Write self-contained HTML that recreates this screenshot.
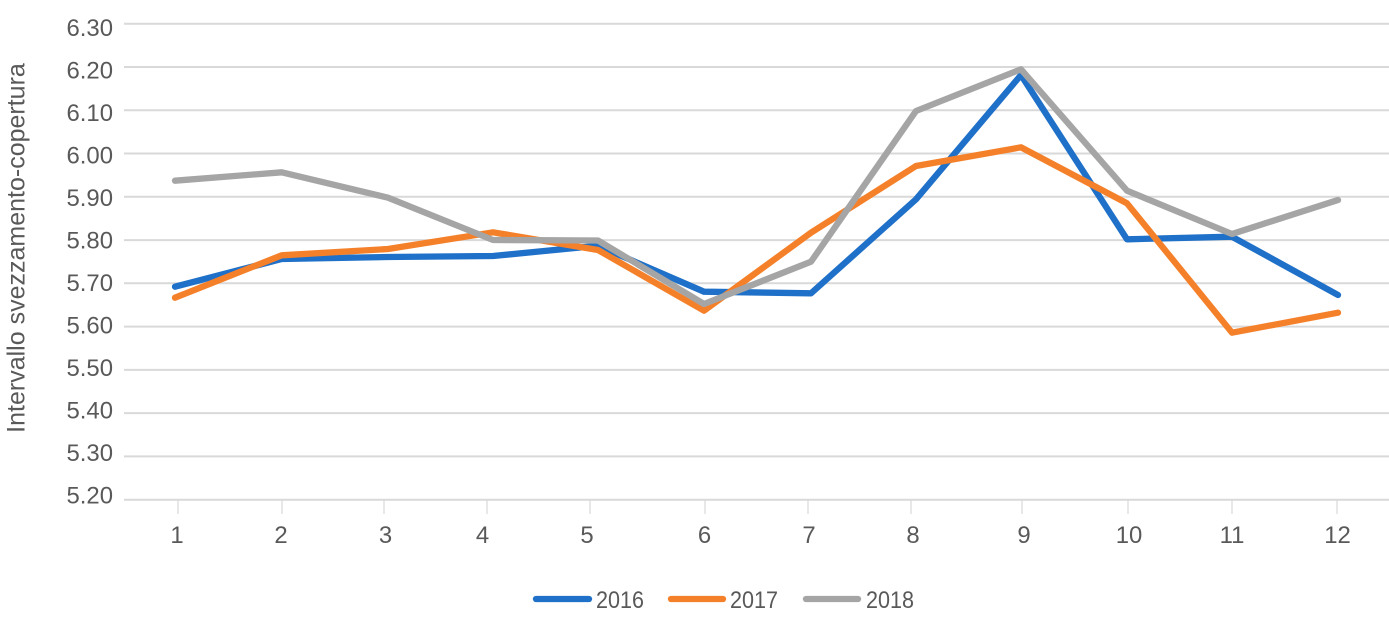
<!DOCTYPE html>
<html>
<head>
<meta charset="utf-8">
<style>
  html, body { margin: 0; padding: 0; background: #ffffff; }
  body { width: 1389px; height: 617px; overflow: hidden; }
  svg { display: block; }
  text { font-family: "Liberation Sans", Arial, sans-serif; fill: #595959; }
</style>
</head>
<body>
<svg width="1389" height="617" viewBox="0 0 1389 617" xmlns="http://www.w3.org/2000/svg">
  <rect x="0" y="0" width="1389" height="617" fill="#ffffff"/>

  <!-- gridlines -->
  <g stroke="#d9d9d9" stroke-width="2">
    <line x1="124" y1="23.7" x2="1389" y2="23.7"/>
    <line x1="124" y1="67.0" x2="1389" y2="67.0"/>
    <line x1="124" y1="110.2" x2="1389" y2="110.2"/>
    <line x1="124" y1="153.5" x2="1389" y2="153.5"/>
    <line x1="124" y1="196.8" x2="1389" y2="196.8"/>
    <line x1="124" y1="240.1" x2="1389" y2="240.1"/>
    <line x1="124" y1="283.3" x2="1389" y2="283.3"/>
    <line x1="124" y1="326.6" x2="1389" y2="326.6"/>
    <line x1="124" y1="369.9" x2="1389" y2="369.9"/>
    <line x1="124" y1="413.1" x2="1389" y2="413.1"/>
    <line x1="124" y1="456.4" x2="1389" y2="456.4"/>
    <line x1="124" y1="499.7" x2="1389" y2="499.7"/>
  </g>

  <!-- x tick marks -->
  <g stroke="#d9d9d9" stroke-width="1.2">
    <line x1="178" y1="500" x2="178" y2="514"/>
    <line x1="282" y1="500" x2="282" y2="514"/>
    <line x1="384" y1="500" x2="384" y2="514"/>
    <line x1="487" y1="500" x2="487" y2="514"/>
    <line x1="590" y1="500" x2="590" y2="514"/>
    <line x1="705" y1="500" x2="705" y2="514"/>
    <line x1="808" y1="500" x2="808" y2="514"/>
    <line x1="911" y1="500" x2="911" y2="514"/>
    <line x1="1022" y1="500" x2="1022" y2="514"/>
    <line x1="1128" y1="500" x2="1128" y2="514"/>
    <line x1="1232" y1="500" x2="1232" y2="514"/>
    <line x1="1337" y1="500" x2="1337" y2="514"/>
  </g>

  <!-- y tick labels -->
  <g font-size="23.9" text-anchor="end">
    <text x="113" y="36.0">6.30</text>
    <text x="113" y="78.5">6.20</text>
    <text x="113" y="121.0">6.10</text>
    <text x="113" y="163.4">6.00</text>
    <text x="113" y="205.9">5.90</text>
    <text x="113" y="248.4">5.80</text>
    <text x="113" y="290.9">5.70</text>
    <text x="113" y="333.4">5.60</text>
    <text x="113" y="375.8">5.50</text>
    <text x="113" y="418.3">5.40</text>
    <text x="113" y="460.8">5.30</text>
    <text x="113" y="503.3">5.20</text>
  </g>

  <!-- x tick labels -->
  <g font-size="23.9" text-anchor="middle">
    <text x="177" y="543">1</text>
    <text x="281" y="543">2</text>
    <text x="385.5" y="543">3</text>
    <text x="482.5" y="543">4</text>
    <text x="587" y="543">5</text>
    <text x="704.5" y="543">6</text>
    <text x="809" y="543">7</text>
    <text x="913" y="543">8</text>
    <text x="1024" y="543">9</text>
    <text x="1129" y="543">10</text>
    <text x="1232" y="543">11</text>
    <text x="1337.5" y="543">12</text>
  </g>

  <!-- y axis title -->
  <text transform="translate(24.3,248) rotate(-90)" font-size="25" text-anchor="middle">Intervallo svezzamento-copertura</text>

  <!-- series -->
  <g fill="none" stroke-width="6.3" stroke-linejoin="round" stroke-linecap="round">
    <polyline stroke="#1f70c8" points="175,286.7 281.7,259 388,257 493,256 598,245.7 704,291.7 811,293.3 916,199.3 1021,75 1127,239.3 1232,236.7 1338,295"/>
    <polyline stroke="#f5802a" points="175,297.7 281.7,255.3 388,249 493,232.3 598,250 704,310.7 811,232.7 916,166 1021,147.3 1127,203.3 1232,332.7 1338,312.7"/>
    <polyline stroke="#a5a5a5" points="175,180.7 281.7,172.3 388,197.7 493,240 598,240.5 704,304 811,261.7 916,111 1021,69.3 1127,190.7 1232,234 1338,200"/>
  </g>

  <!-- legend -->
  <g stroke-width="6.3" stroke-linecap="round">
    <line x1="536" y1="599" x2="589" y2="599" stroke="#1f70c8"/>
    <line x1="671" y1="599" x2="723" y2="599" stroke="#f5802a"/>
    <line x1="806" y1="599" x2="858" y2="599" stroke="#a5a5a5"/>
  </g>
  <g font-size="24.5">
    <text x="596" y="608" textLength="48" lengthAdjust="spacingAndGlyphs">2016</text>
    <text x="730" y="608" textLength="48" lengthAdjust="spacingAndGlyphs">2017</text>
    <text x="866" y="608" textLength="48" lengthAdjust="spacingAndGlyphs">2018</text>
  </g>
</svg>
</body>
</html>
